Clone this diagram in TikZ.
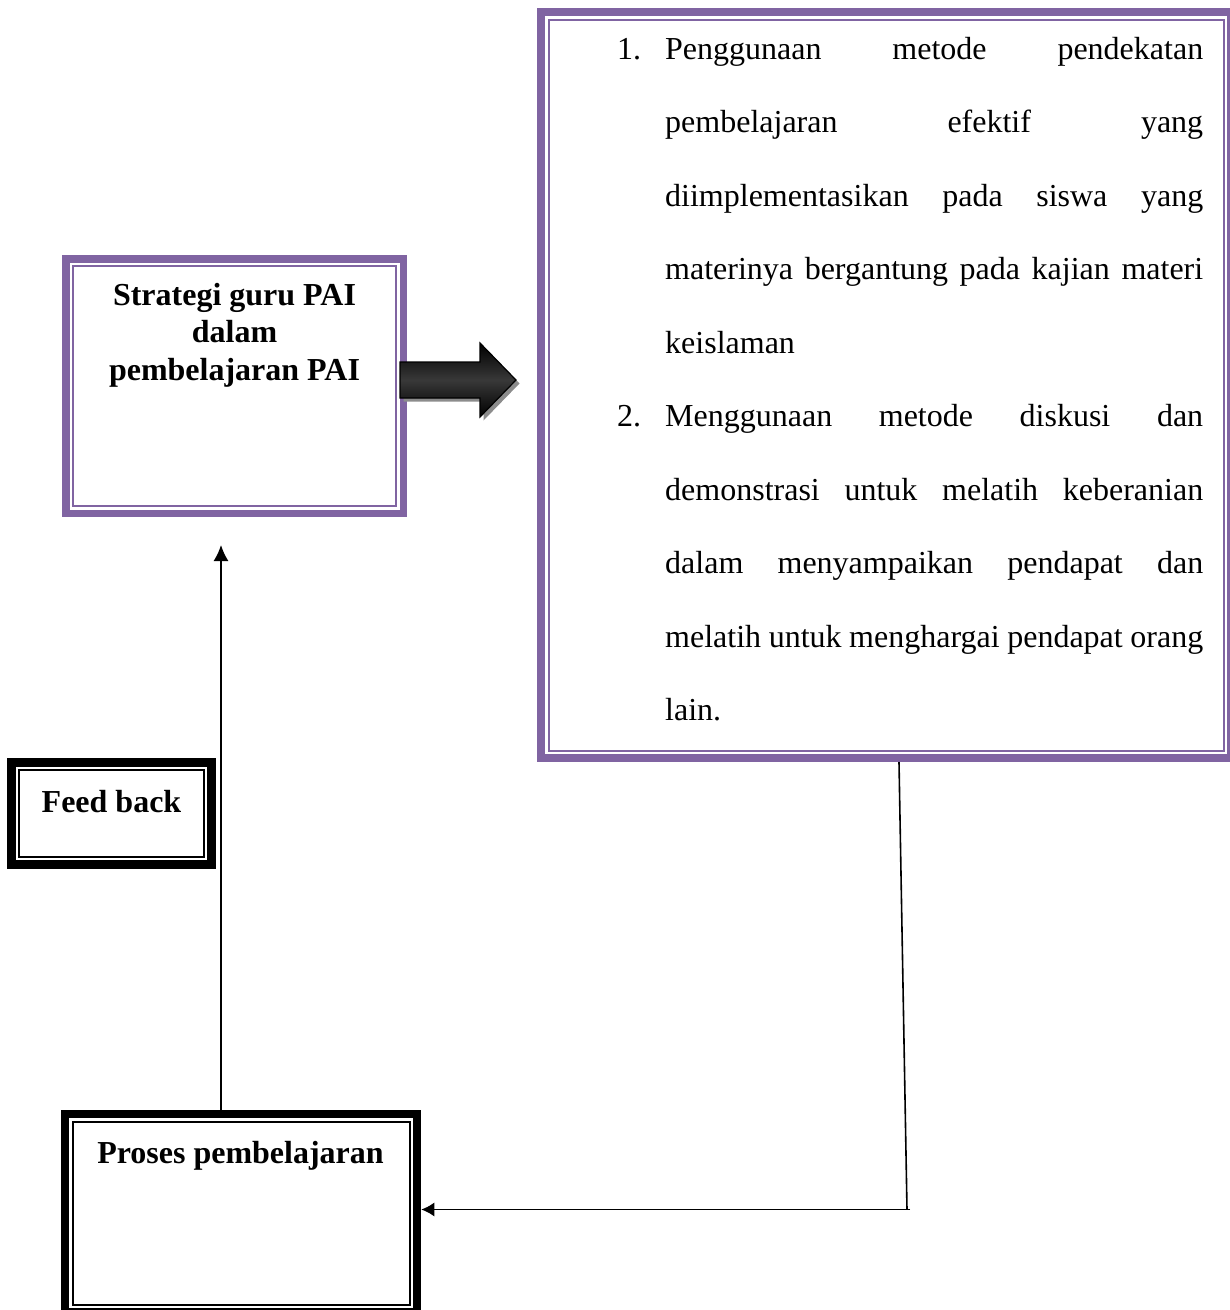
\documentclass[tikz,border=0pt]{standalone}
\usepackage{fontspec}
\setmainfont{Liberation Serif}
\usetikzlibrary{arrows.meta}
\definecolor{boxpurple}{RGB}{128,100,162}
\tikzset{
  framed/.style 2 args={draw=#1, line width=#2, fill=white, inner sep=0pt},
  innerline/.style n args={3}{path picture={
      \draw[#1, line width=#2]
        ([shift={(#3,-#3)}]path picture bounding box.north west) rectangle
        ([shift={(-#3,#3)}]path picture bounding box.south east);}},
  purplebox/.style={framed={boxpurple}{7.5pt}, innerline={boxpurple}{1.8pt}{7pt}},
  listbox/.style={framed={boxpurple}{8pt}, innerline={boxpurple}{2pt}{7.5pt}},
  blackbox/.style={framed={black}{8.5pt}, innerline={black}{2pt}{7.5pt}},
  boxlabel/.style={anchor=base, inner sep=0pt, font=\fontsize{32}{37}\selectfont\bfseries},
  itemtext/.style={anchor=base west, inner sep=0pt, font=\fontsize{32}{37}\selectfont},
  conn/.style={draw=black, line width=1.6pt},
}
\newcommand{\jline}[1]{\makebox[538pt][s]{#1}}
\begin{document}
\begin{tikzpicture}[x=1pt, y=-1pt]
  \useasboundingbox (0,0) rectangle (1230,1310);
  \clip (0,0) rectangle (1230,1310);

  % boxes
  \node[purplebox, minimum width=337.5pt, minimum height=254.5pt] (strat) at (234.5,386) {};
  \node[listbox, minimum width=690pt, minimum height=746pt] (list) at (886,385) {};
  \node[blackbox, minimum width=200pt, minimum height=102pt] (feed) at (111.5,813.5) {};
  \node[blackbox, minimum width=352pt, minimum height=198pt] (proses) at (241,1213) {};

  % box labels
  \node[boxlabel] (s1) at (234.5,305) {Strategi guru PAI};
  \node[boxlabel] (s2) at (234.5,342) {dalam};
  \node[boxlabel] (s3) at (234.5,380) {pembelajaran PAI};
  \node[boxlabel] (fb) at (111.5,812.5) {Feed back};
  \node[boxlabel] (pp) at (240.5,1163) {Proses pembelajaran};

  % numbered list
  \node[itemtext] (n1) at (617,59.3) {1.};
  \node[itemtext] (l1) at (665,59.3)  {\jline{Penggunaan metode pendekatan}};
  \node[itemtext] (l2) at (665,132.8) {\jline{pembelajaran efektif yang}};
  \node[itemtext] (l3) at (665,206.3) {\jline{diimplementasikan pada siswa yang}};
  \node[itemtext] (l4) at (665,279.8) {\jline{materinya bergantung pada kajian materi}};
  \node[itemtext] (l5) at (665,353.3) {keislaman};
  \node[itemtext] (n2) at (617,426.8) {2.};
  \node[itemtext] (l6) at (665,426.8) {\jline{Menggunaan metode diskusi dan}};
  \node[itemtext] (l7) at (665,500.3) {\jline{demonstrasi untuk melatih keberanian}};
  \node[itemtext] (l8) at (665,573.8) {\jline{dalam menyampaikan pendapat dan}};
  \node[itemtext] (l9) at (665,647.3) {\jline{melatih untuk menghargai pendapat orang}};
  \node[itemtext] (l10) at (665,720.8) {lain.};

  % block arrow between the strategy box and the list
  \fill[black!45, shift={(3.5,3.5)}]
    (400,362) -- (480,362) -- (480,343) -- (516,380) -- (480,417) -- (480,398) -- (400,398) -- cycle;
  \shade[top color=black, bottom color=black, middle color=black!78, draw=black, line width=1.2pt]
    (400,362) -- (480,362) -- (480,343) -- (516,380) -- (480,417) -- (480,398) -- (400,398) -- cycle;

  % connectors
  \coordinate (fbtip) at (221,545);
  \draw[conn, -{Latex[length=16pt,width=15pt]}] (proses.north -| fbtip) -- (fbtip);
  \coordinate (corner) at (907,1209.5);
  \draw[conn] ([xshift=13pt]list.south) -- (corner);
  \draw[conn, -{Latex[length=13pt,width=14pt]}] ([xshift=3pt]corner) -- (proses.east |- corner);
\end{tikzpicture}
\end{document}
